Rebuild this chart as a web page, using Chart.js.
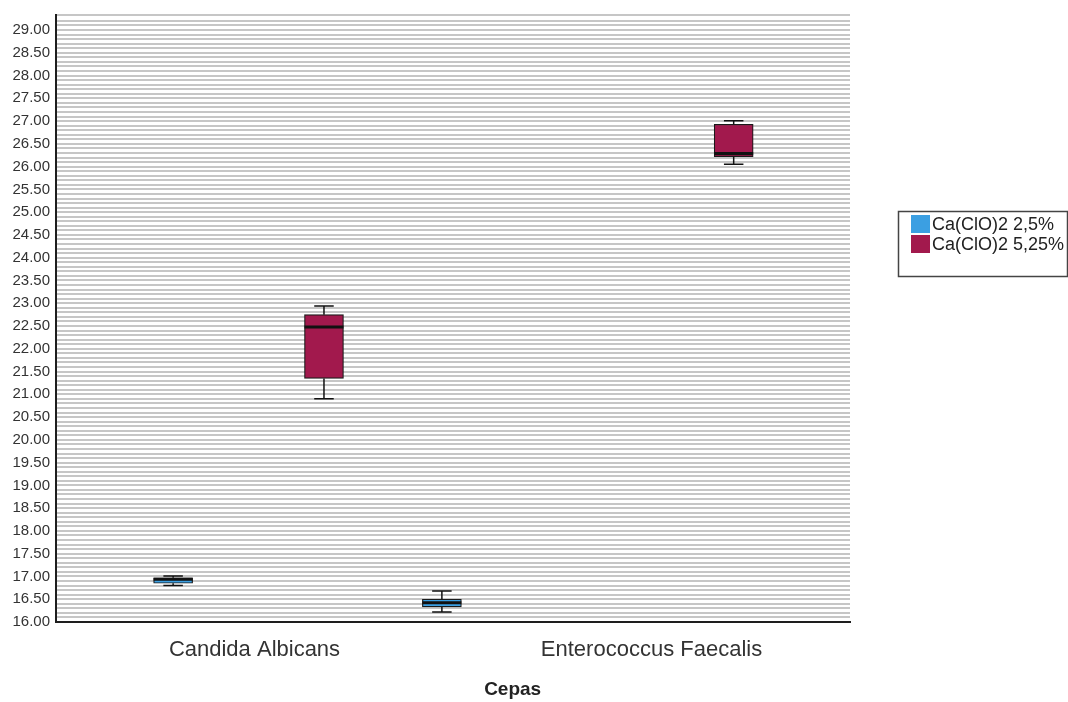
<!DOCTYPE html>
<html><head><meta charset="utf-8">
<script src="https://cdn.jsdelivr.net/npm/chart.js@4.4.1/dist/chart.umd.min.js"></script>
<style>html,body{margin:0;padding:0;background:#fff;} #wrap{width:1068px;height:702px;position:relative;}</style>
</head><body><div id="wrap"><canvas id="c"></canvas></div>
<script>
// ---- data ----
const categories = ['Candida Albicans', 'Enterococcus Faecalis'];
const seriesNames = ['Ca(ClO)2 2,5%', 'Ca(ClO)2 5,25%'];
// series A: Ca(ClO)2 2,5%
const minA = [16.80, 16.22];
const q1A  = [16.85, 16.33];
const medA = [16.94, 16.42];
const q3A  = [16.97, 16.50];
const maxA = [17.01, 16.68];
// series B: Ca(ClO)2 5,25%
const minB = [20.90, 26.05];
const q1B  = [21.35, 26.22];
const medB = [22.48, 26.29];
const q3B  = [22.75, 26.93];
const maxB = [22.94, 27.01];
// axis
const yMin = 16, yMax = 29.33, yGridStep = 0.1, yLabelStep = 0.5;
const axisTitle = 'Cepas';

// ---- layout / style (not data) ----
const boxSlots = [[-0.205, -0.528], [0.175, 0.207]]; // offsets within category, in category units
const colors = ['#3b9fe2', '#a2194d'];
const FONT = "'Liberation Sans', Arial, sans-serif";

const stats = [
  {min: minA, q1: q1A, med: medA, q3: q3A, max: maxA},
  {min: minB, q1: q1B, med: medB, q3: q3B, max: maxB}
];

const datasets = stats.map((s, d) => ({
  label: seriesNames[d],
  data: categories.map((c, i) => ({x: i + boxSlots[d][i], y: [s.q1[i], s.q3[i]]})),
  backgroundColor: colors[d],
  borderColor: '#1a1a1a',
  borderWidth: 1.2,
  borderSkipped: false,
  barThickness: 39,
  grouped: false
}));

const boxPlugin = {
  id: 'boxWhiskers',
  afterDatasetsDraw(chart) {
    const ctx = chart.ctx, ys = chart.scales.y;
    ctx.save();
    stats.forEach((s, d) => {
      const meta = chart.getDatasetMeta(d);
      meta.data.forEach((bar, i) => {
        const x = bar.x, half = bar.width / 2;
        const pMin = ys.getPixelForValue(s.min[i]);
        const pQ1 = ys.getPixelForValue(s.q1[i]);
        const pMed = ys.getPixelForValue(s.med[i]);
        const pQ3 = ys.getPixelForValue(s.q3[i]);
        const pMax = ys.getPixelForValue(s.max[i]);
        ctx.strokeStyle = '#111';
        ctx.lineWidth = 1.5;
        ctx.beginPath();
        ctx.moveTo(x, pQ3); ctx.lineTo(x, pMax);
        ctx.moveTo(x, pQ1); ctx.lineTo(x, pMin);
        ctx.moveTo(x - half / 2, pMax); ctx.lineTo(x + half / 2, pMax);
        ctx.moveTo(x - half / 2, pMin); ctx.lineTo(x + half / 2, pMin);
        ctx.stroke();
        ctx.lineWidth = 3;
        ctx.beginPath();
        ctx.moveTo(x - half, pMed); ctx.lineTo(x + half, pMed);
        ctx.stroke();
      });
    });
    ctx.restore();
  }
};

const decorPlugin = {
  id: 'boxLegendAndTitle',
  afterDraw(chart) {
    const ctx = chart.ctx, a = chart.chartArea;
    ctx.save();
    // axis title (offset to the right of the plot centre, as in the original)
    ctx.font = 'bold 19px ' + FONT;
    ctx.fillStyle = '#222';
    ctx.textAlign = 'center';
    ctx.textBaseline = 'middle';
    ctx.fillText(axisTitle, chart.width * 0.48, chart.height - 12);
    // legend
    const left = a.right + 48, top = a.top + 196, w = 169, h = 65;
    ctx.strokeStyle = '#444';
    ctx.lineWidth = 1.5;
    ctx.strokeRect(left + 0.5, top + 0.5, w, h);
    ctx.font = '18px ' + FONT;
    ctx.textAlign = 'left';
    seriesNames.forEach((name, d) => {
      const rowY = top + 4 + d * 20;
      ctx.fillStyle = colors[d];
      ctx.fillRect(left + 13, rowY, 19, 18);
      ctx.fillStyle = '#222';
      ctx.fillText(name, left + 34, rowY + 10);
    });
    ctx.restore();
  }
};

const isMultiple = (v, step) => Math.abs(v / step - Math.round(v / step)) < 1e-6;

new Chart(document.getElementById('c'), {
  type: 'bar',
  data: {datasets},
  options: {
    responsive: true,
    maintainAspectRatio: false,
    animation: false,
    layout: {padding: {left: 0, right: 218, top: 13, bottom: 0}},
    plugins: {legend: {display: false}, tooltip: {enabled: false}},
    scales: {
      x: {
        type: 'linear', min: -0.5, max: 1.5, offset: false,
        grid: {display: false},
        border: {display: true, color: '#1e1e1e', width: 2},
        afterBuildTicks: s => { s.ticks = categories.map((c, i) => ({value: i})); },
        afterFit: s => { s.height = 80; },
        ticks: {
          callback: v => categories[v] !== undefined ? categories[v] : '',
          font: {family: FONT, size: 22}, color: '#333', padding: 7,
          maxRotation: 0, autoSkip: false
        }
      },
      y: {
        min: yMin, max: yMax,
        afterFit: s => { s.width = 56; },
        grid: {color: '#c6c6c6', lineWidth: 2, drawTicks: false},
        border: {display: true, color: '#1e1e1e', width: 2},
        ticks: {
          stepSize: yGridStep, autoSkip: false,
          callback: v => isMultiple(v, yLabelStep) ? Number(v).toFixed(2) : '',
          font: {family: FONT, size: 15}, color: '#333', padding: 6
        }
      }
    }
  },
  plugins: [boxPlugin, decorPlugin]
});
</script></body></html>
